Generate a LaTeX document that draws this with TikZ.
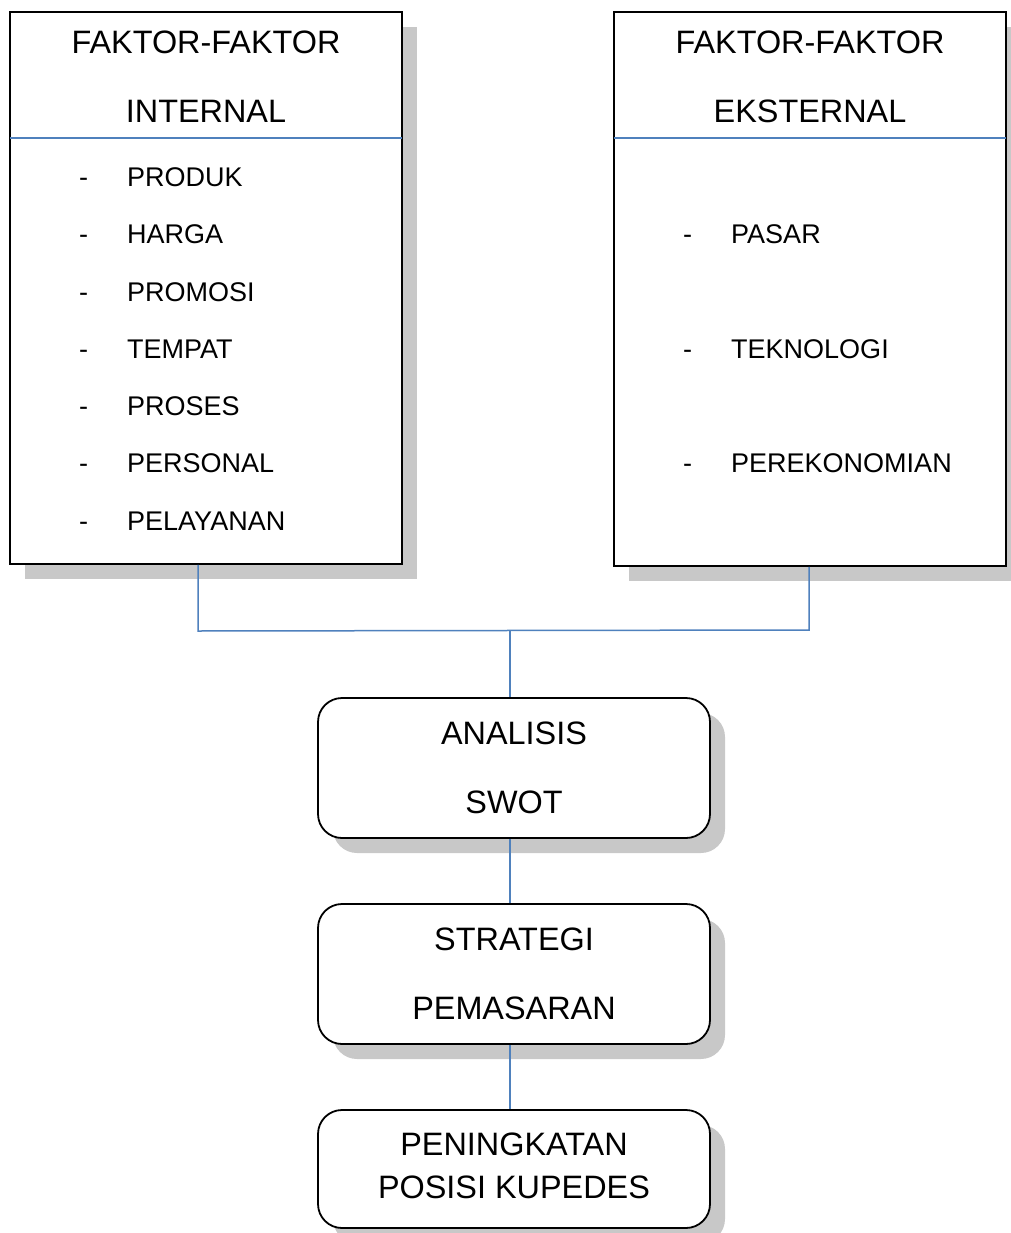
\documentclass[tikz,border=0pt]{standalone}
\usepackage{fontspec}
\setmainfont{Liberation Sans}
\usetikzlibrary{shadows,calc}
\definecolor{lineblue}{RGB}{79,129,189}
\definecolor{shadowgray}{RGB}{200,200,200}
\begin{document}
\begin{tikzpicture}[x=1pt,y=1pt,
  box/.style={draw=black, line width=1.8pt, fill=white, inner sep=0pt,
    drop shadow={shadow xshift=15pt, shadow yshift=-15pt, fill=shadowgray, opacity=1}},
  rbox/.style={box, rounded corners=24pt},
  head/.style={font=\fontsize{32.4}{38}\selectfont, inner sep=0pt, text height=22.6pt, text depth=0pt},
  item/.style={font=\fontsize{27}{30}\selectfont, anchor=west, inner sep=0pt, text height=18.8pt, text depth=0pt},
  divider/.style={draw=lineblue, line width=1.3pt},
  conn/.style={draw=lineblue, line width=1.5pt}
]
\useasboundingbox (0,0) rectangle (1010,-1233);
\fill[white] (0,0) rectangle (1010,-1233);

% Left box
\node[box, minimum width=392pt, minimum height=552pt] (intbox) at (206,-288) {};
\node[head] (inth1) at (206,-42) {FAKTOR-FAKTOR};
\node[head] (inth2) at (206,-111) {INTERNAL};
\draw[divider] (10,-138) -- (402,-138);
\foreach \t [count=\i] in {PRODUK,HARGA,PROMOSI,TEMPAT,PROSES,PERSONAL,PELAYANAN}{
  \node[item] (intd\i) at (79,{-177-57.3*(\i-1)}) {-};
  \node[item] (inti\i) at (127,{-177-57.3*(\i-1)}) {\t};
}

% Right box
\node[box, minimum width=392pt, minimum height=554pt] (extbox) at (810,-289) {};
\node[head] (exth1) at (810,-42) {FAKTOR-FAKTOR};
\node[head] (exth2) at (810,-111) {EKSTERNAL};
\draw[divider] (614,-138) -- (1006,-138);
\node[item] (extd1) at (683,-234) {-};
\node[item] (exti1) at (731,-234) {PASAR};
\node[item] (extd2) at (683,-349) {-};
\node[item] (exti2) at (731,-349) {TEKNOLOGI};
\node[item] (extd3) at (683,-463) {-};
\node[item] (exti3) at (731,-463) {PEREKONOMIAN};

% Rounded boxes
\node[rbox, minimum width=392pt, minimum height=140pt] (swot) at (514,-768) {};
\node[head] (swot1) at (514,-733) {ANALISIS};
\node[head] (swot2) at (514,-802) {SWOT};

\node[rbox, minimum width=392pt, minimum height=140pt] (strat) at (514,-974) {};
\node[head] (strat1) at (514,-939) {STRATEGI};
\node[head] (strat2) at (514,-1008) {PEMASARAN};

\node[rbox, minimum width=392pt, minimum height=118pt] (posisi) at (514,-1169) {};
\node[head] (pos1) at (514,-1144) {PENINGKATAN};
\node[head] (pos2) at (514,-1187) {POSISI KUPEDES};

% Connectors
\coordinate (intb) at ($(intbox.south)+(-8,0)$);
\coordinate (extb) at ($(extbox.south)+(-1,0)$);
\coordinate (swott) at ($(swot.north)+(-4,0)$);
\coordinate (swotb) at ($(swot.south)+(-4,0)$);
\coordinate (stratt) at ($(strat.north)+(-4,0)$);
\coordinate (stratb) at ($(strat.south)+(-4,0)$);
\coordinate (post) at ($(posisi.north)+(-4,0)$);
\coordinate (jl) at (198,-631);
\coordinate (jr) at (809,-630);
\coordinate (jm) at (510,-631);
\draw[conn] (intb) -- (jl) -- (jr) -- (extb);
\draw[conn] (jm) -- (swott);
\draw[conn] (swotb) -- (stratt);
\draw[conn] (stratb) -- (post);
\end{tikzpicture}
\end{document}
